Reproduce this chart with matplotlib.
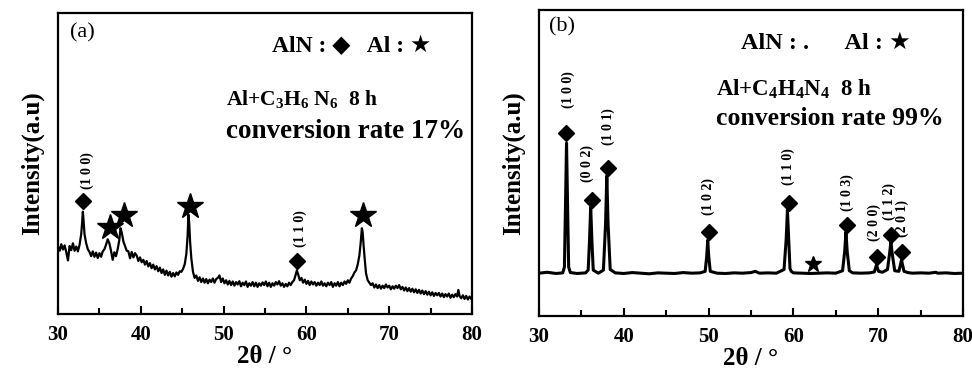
import numpy as np
import matplotlib
matplotlib.use("Agg")
import matplotlib.pyplot as plt
from matplotlib.ticker import MultipleLocator

plt.rcParams["font.family"] = ["Liberation Serif", "DejaVu Sans"]
plt.rcParams["font.weight"] = "bold"
plt.rcParams["axes.labelweight"] = "bold"
plt.rcParams["mathtext.fontset"] = "custom"
plt.rcParams["mathtext.rm"] = "Liberation Serif:bold"
plt.rcParams["mathtext.default"] = "rm"

# Panel (a): Al + C3H6N6, noisy pattern
xa = [30.0, 30.2, 30.4, 30.6, 30.8, 31.0, 31.2, 31.4, 31.6, 31.8, 32.0, 32.2, 32.4, 32.6,
      32.8, 32.9, 33.0, 33.1, 33.2, 33.4, 33.6, 33.8, 34.0, 34.2, 34.4, 34.6, 34.8, 35.0,
      35.2, 35.4, 35.6, 35.8, 36.0, 36.2, 36.4, 36.6, 36.8, 37.0, 37.2, 37.4, 37.55, 37.7,
      37.9, 38.1, 38.3, 38.5, 38.7, 38.9, 39.1, 39.3, 39.5, 39.7, 39.9, 40.1, 40.3, 40.5,
      40.7, 40.9, 41.1, 41.3, 41.5, 41.7, 41.9, 42.1, 42.3, 42.5, 42.7, 42.9, 43.1, 43.3,
      43.5, 43.7, 43.9, 44.1, 44.3, 44.5, 44.7, 44.9, 45.1, 45.3, 45.5, 45.65, 45.75, 45.85,
      45.95, 46.1, 46.3, 46.5, 46.7, 46.9, 47.1, 47.3, 47.5, 47.7, 47.9, 48.1, 48.3, 48.5,
      48.7, 48.9, 49.1, 49.3, 49.5, 49.7, 49.9, 50.1, 50.3, 50.5, 50.7, 50.9, 51.1, 51.3,
      51.5, 51.7, 51.9, 52.1, 52.3, 52.5, 52.7, 52.9, 53.1, 53.3, 53.5, 53.7, 53.9, 54.1,
      54.3, 54.5, 54.7, 54.9, 55.1, 55.3, 55.5, 55.7, 55.9, 56.1, 56.3, 56.5, 56.7, 56.9,
      57.1, 57.3, 57.5, 57.7, 57.9, 58.1, 58.3, 58.5, 58.7, 58.85, 59.0, 59.2, 59.4, 59.6,
      59.8, 60.0, 60.2, 60.4, 60.6, 60.8, 61.0, 61.2, 61.4, 61.6, 61.8, 62.0, 62.2, 62.4,
      62.6, 62.8, 63.0, 63.2, 63.4, 63.6, 63.8, 64.0, 64.2, 64.4, 64.6, 64.8, 65.0, 65.2,
      65.4, 65.6, 65.8, 66.0, 66.2, 66.4, 66.55, 66.7, 66.8, 66.9, 67.05, 67.2, 67.4, 67.6,
      67.8, 68.0, 68.2, 68.4, 68.6, 68.8, 69.0, 69.2, 69.4, 69.6, 69.8, 70.0, 70.2, 70.4,
      70.6, 70.8, 71.0, 71.2, 71.4, 71.6, 71.8, 72.0, 72.2, 72.4, 72.6, 72.8, 73.0, 73.2,
      73.4, 73.6, 73.8, 74.0, 74.2, 74.4, 74.6, 74.8, 75.0, 75.2, 75.4, 75.6, 75.8, 76.0,
      76.2, 76.4, 76.6, 76.8, 77.0, 77.2, 77.4, 77.6, 77.8, 78.0, 78.2, 78.35, 78.5, 78.7,
      78.9, 79.1, 79.3, 79.5, 79.7, 79.9, 80.0]
ya = [22.5, 21.0, 23.2, 21.4, 22.8, 20.5, 17.8, 22.6, 21.2, 23.5, 21.0, 22.4, 20.8, 23.0,
      26.5, 30.0, 34.0, 30.5, 26.5, 23.5, 21.5, 20.6, 19.2, 20.8, 19.0, 20.4, 18.6, 20.2,
      19.0, 20.8, 21.5, 23.0, 24.8, 23.5, 21.0, 18.0, 20.5, 19.2, 21.5, 24.5, 28.5, 27.0,
      24.0, 22.5, 21.0, 20.8, 18.5, 20.6, 18.8, 20.2, 19.4, 17.6, 18.8, 17.2, 18.0, 16.4,
      17.6, 15.8, 16.9, 15.2, 16.4, 14.8, 15.9, 14.2, 15.4, 13.6, 14.8, 13.0, 14.4, 12.8,
      14.0, 12.4, 13.6, 12.5, 13.8, 13.0, 14.2, 14.0, 15.0, 16.5, 20.0, 26.0, 33.0, 30.0,
      24.0, 18.5, 14.0, 12.0, 12.8, 11.0, 12.2, 10.6, 11.8, 10.4, 11.6, 10.2, 11.4, 10.6,
      11.8, 10.4, 11.6, 12.0, 12.8, 10.6, 11.8, 10.2, 11.2, 9.8, 11.0, 9.6, 10.8, 9.4,
      10.6, 9.8, 10.9, 9.2, 10.4, 9.6, 10.8, 9.0, 10.2, 9.4, 10.6, 9.2, 10.4, 9.0,
      10.2, 9.4, 10.5, 9.6, 10.8, 9.2, 10.4, 9.0, 10.2, 9.4, 10.6, 9.8, 10.9, 9.4,
      10.2, 9.0, 10.0, 9.2, 10.4, 9.6, 10.6, 11.2, 13.0, 14.5, 13.2, 11.2, 12.0, 10.4,
      11.4, 10.0, 11.0, 9.6, 10.8, 9.8, 10.6, 9.4, 10.4, 9.6, 10.8, 9.4, 10.2, 9.2,
      10.4, 9.6, 10.6, 9.0, 10.2, 9.4, 10.6, 9.2, 10.4, 9.6, 10.8, 10.0, 11.2, 10.4,
      11.8, 12.6, 13.8, 14.5, 16.5, 19.5, 23.5, 28.5, 27.0, 23.0, 18.0, 13.5, 11.2, 10.4,
      9.6, 10.2, 8.8, 9.8, 8.6, 9.6, 8.4, 9.4, 8.6, 9.8, 8.8, 9.4, 8.2, 9.2,
      8.4, 9.4, 8.6, 9.6, 8.2, 9.0, 7.8, 8.8, 7.6, 8.6, 7.4, 8.4, 7.2, 8.2,
      7.0, 8.0, 6.8, 7.8, 6.6, 7.6, 6.4, 7.4, 6.2, 7.2, 6.0, 7.0, 6.2, 7.0,
      5.8, 6.8, 5.6, 6.6, 5.8, 6.8, 5.4, 6.4, 5.6, 6.6, 5.8, 8.0, 6.0, 5.2,
      6.2, 5.0, 6.0, 4.8, 5.8, 5.0, 5.6]

# Panel (a) markers and labels
aln_a_x = [33.0, 58.9]
aln_a_y = [37.5, 17.6]
al_a_x = [36.3, 38.0, 45.9, 66.8]
al_a_y = [29.0, 33.0, 36.0, 33.0]
hkl_a = ["(1 0 0)", "(1 1 0)"]
hkl_a_x = [33.5, 59.2]
hkl_a_y = [47.5, 28.5]

# Panel (b): Al + C4H4N4, clean AlN pattern
xb = [30.0, 31.0, 32.0, 32.8, 33.0, 33.12, 33.25, 33.38, 33.5, 33.7, 34.5, 35.5, 35.8,
      35.95, 36.1, 36.25, 36.4, 37.0, 37.6, 37.85, 38.0, 38.15, 38.4, 39.0, 40.0, 41.0,
      42.0, 43.0, 44.0, 45.0, 46.0, 47.0, 48.0, 49.0, 49.6, 49.78, 49.9, 50.02, 50.2,
      51.0, 52.0, 53.0, 54.0, 55.0, 55.5, 56.0, 57.0, 58.0, 58.9, 59.15, 59.3, 59.45,
      59.6, 59.75, 60.0, 61.0, 62.0, 63.0, 64.0, 65.0, 65.8, 66.05, 66.2, 66.35, 66.6,
      67.0, 68.0, 69.0, 69.55, 69.8, 70.05, 70.5, 71.1, 71.35, 71.5, 71.65, 71.95, 72.45,
      72.75, 73.05, 73.5, 74.0, 75.0, 76.0, 76.8, 77.0, 78.0, 79.0, 80.0]
yb = [14.0, 14.3, 13.9, 14.1, 16.0, 35.0, 56.5, 35.0, 16.0, 14.2, 13.9, 14.1, 15.0,
      24.0, 35.6, 24.0, 15.0, 14.0, 15.0, 30.0, 45.8, 30.0, 15.2, 14.1, 13.9, 14.2,
      14.0, 13.8, 14.1, 14.0, 13.9, 14.2, 14.0, 14.1, 14.6, 19.5, 24.8, 19.5, 14.6,
      14.0, 13.9, 14.1, 14.0, 14.2, 14.6, 14.0, 14.1, 14.0, 15.2, 25.0, 34.6, 25.0,
      15.5, 14.6, 14.1, 14.0, 13.9, 14.0, 14.1, 14.0, 14.8, 21.0, 27.5, 21.0, 14.8,
      14.1, 14.0, 14.1, 14.4, 16.7, 14.6, 14.3, 15.2, 20.5, 24.2, 20.5, 14.8, 14.6,
      18.3, 14.6, 14.2, 14.0, 14.1, 14.0, 14.3, 14.0, 14.1, 13.9, 14.0]

aln_b_x = [33.2, 36.2, 38.1, 50.0, 59.5, 66.3, 69.9, 71.5, 72.8]
aln_b_y = [59.8, 37.9, 48.4, 27.5, 36.9, 29.7, 19.3, 26.5, 21.0]
al_b_x = [62.3]
al_b_y = [17.0]
hkl_b = ["(1 0 0)", "(0 0 2)", "(1 0 1)", "(1 0 2)", "(1 1 0)", "(1 0 3)",
         "(2 0 0)", "(1 1 2)", "(2 0 1)"]
hkl_b_x = [33.4, 35.7, 38.2, 50.0, 59.4, 66.3, 69.5, 71.3, 72.9]
hkl_b_y = [73.9, 50.0, 61.8, 39.0, 48.7, 40.5, 30.7, 37.3, 32.0]

fig = plt.figure(figsize=(9.72, 3.70), dpi=100)
ax1 = fig.add_axes([0.0597, 0.1514, 0.4259, 0.8135])
ax2 = fig.add_axes([0.5545, 0.1459, 0.4362, 0.8270])

for ax in (ax1, ax2):
    ax.set_xlim(30, 80)
    ax.set_ylim(0, 100)
    ax.set_yticks([])
    ax.xaxis.set_major_locator(MultipleLocator(10))
    ax.xaxis.set_minor_locator(MultipleLocator(5))
    ax.tick_params(axis="x", which="both", direction="in", top=False, width=1.5,
                   labelsize=15, pad=8)
    ax.tick_params(axis="x", which="major", length=6)
    ax.tick_params(axis="x", which="minor", length=4)
    for s in ax.spines.values():
        s.set_linewidth(1.6)
    ax.set_xlabel("2θ / °", fontsize=18, fontweight="bold", labelpad=0)
    ax.set_ylabel("Intensity(a.u)", fontsize=18, fontweight="bold", labelpad=10)

# (a)
ax1.plot(xa, ya, color="black", lw=1.6)
ax1.plot(aln_a_x, aln_a_y, "D", color="black", ms=8, ls="none")
ax1.plot(al_a_x, al_a_y, "*", color="black", ms=19, ls="none")
for t, x, y in zip(hkl_a, hkl_a_x, hkl_a_y):
    ax1.text(x, y, t, rotation=90, ha="center", va="center", fontsize=10)
ax1.text(31.4, 93.5, "(a)", fontsize=16, fontweight="normal", va="center")
ax1.text(55.8, 89.0, "AlN : ◆   Al : ★", fontsize=17, va="center")
ax1.text(50.3, 71.5, "Al+C$_3$H$_6$ N$_6$  8 h", fontsize=15.5, va="center")
ax1.text(50.3, 60.5, "conversion rate 17%", fontsize=19.5, va="center")

# (b)
ax2.plot(xb, yb, color="black", lw=2.2)
ax2.plot(aln_b_x, aln_b_y, "D", color="black", ms=8, ls="none")
ax2.plot(al_b_x, al_b_y, "*", color="black", ms=12, ls="none")
for t, x, y in zip(hkl_b, hkl_b_x, hkl_b_y):
    ax2.text(x, y, t, rotation=90, ha="center", va="center", fontsize=10)
ax2.text(31.2, 94.5, "(b)", fontsize=16, fontweight="normal", va="center")
ax2.text(53.8, 89.0, "AlN : .      Al : ★", fontsize=17.5, va="center")
ax2.text(50.9, 74.0, "Al+C$_4$H$_4$N$_4$  8 h", fontsize=16.5, va="center")
ax2.text(50.9, 64.5, "conversion rate 99%", fontsize=18.5, va="center")

fig.savefig("out.png", dpi=100)
